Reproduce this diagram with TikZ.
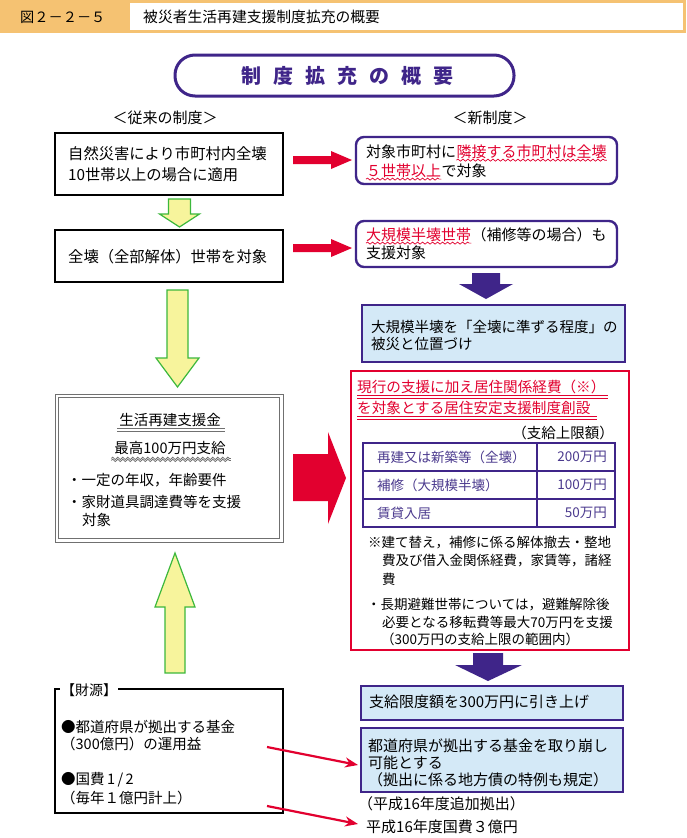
\documentclass[tikz,border=0pt]{standalone}
\usepackage{fontspec}
\setmainfont{Noto Sans CJK JP}
\usetikzlibrary{decorations.pathmorphing,arrows.meta}
\definecolor{pur}{HTML}{3F2589}
\definecolor{rd}{HTML}{E2002F}
\definecolor{lb}{HTML}{D4E9F7}
\definecolor{yf}{HTML}{F7F49C}
\definecolor{gr}{HTML}{3CB83C}
\definecolor{org}{HTML}{F5C272}
\definecolor{tpur}{HTML}{4B3A8E}
\definecolor{gry}{HTML}{707070}
\newcommand\fA{\fontsize{15}{18}\selectfont}
\newcommand\fB{\fontsize{14.5}{17}\selectfont}
\newcommand\fC{\fontsize{13.5}{16}\selectfont}
\tikzset{
  t/.style={inner sep=0pt, anchor=west, font=\fA},
  ts/.style={inner sep=0pt, anchor=west, font=\fB},
  tn/.style={inner sep=0pt, anchor=west, font=\fC},
  chainr/.style={inner sep=0pt, anchor=base west, font=\fA},
  blk/.style={draw=black, line width=1.8pt, inner sep=0pt},
  rbox/.style={draw=pur, line width=2.4pt, rounded corners=8pt, inner sep=0pt},
  bbox/.style={draw=pur, line width=1.8pt, fill=lb, inner sep=0pt},
  wavy/.style={rd, line width=0.7pt, decorate, decoration={snake, amplitude=1pt, segment length=5pt}},
  gwavy/.style={gry, line width=0.8pt, decorate, decoration={snake, amplitude=1.2pt, segment length=5pt}},
  yarrow/.style={fill=yf, draw=gr, line width=1.2pt, line join=miter},
  parrow/.style={fill=pur},
  rarrow/.style={fill=rd},
  thinarrow/.style={rd, line width=2.2pt, -{Stealth[length=13pt,width=10pt]}},
}
\begin{document}
\begin{tikzpicture}[x=1pt,y=-1pt]
\useasboundingbox (0,0) rectangle (686,838);
\fill[white] (0,0) rectangle (686,838);

% header
\fill[org] (0,0) rectangle (686,33);
\node[fill=white, minimum width=553pt, minimum height=27pt, inner sep=0pt] (hdrw) at (406.5,16.5) {};
\node[inner sep=0pt, anchor=west, font=\fontsize{14.2}{16}\selectfont] (fig) at (20,17) {図２－２－５};
\node[inner sep=0pt, anchor=west, font=\fontsize{14.8}{17}\selectfont] (hdr) at (143,17) {被災者生活再建支援制度拡充の概要};

% title
\node[draw=pur, line width=3pt, rounded corners=20pt, minimum width=339pt, minimum height=41pt, inner sep=0pt] (ttl) at (344.5,75.5) {};
\node[inner sep=0pt, text=pur, font=\fontsize{20}{24}\selectfont\bfseries] (ttlt) at (347,76) {制\hspace{12pt}度\hspace{12pt}拡\hspace{12pt}充\hspace{12pt}の\hspace{12pt}概\hspace{12pt}要};

\node[inner sep=0pt, font=\fA] (old) at (165,118) {＜従来の制度＞};
\node[inner sep=0pt, font=\fA] (new) at (490,118) {＜新制度＞};

% left boxes
\node[blk, minimum width=228pt, minimum height=62pt] (b1) at (169,164) {};
\node[t, font=\fontsize{15.3}{18}\selectfont] (b1a) at (68,154) {自然災害により市町村内全壊};
\node[t, font=\fontsize{15.3}{18}\selectfont] (b1b) at (68,175) {10世帯以上の場合に適用};

\node[blk, minimum width=228pt, minimum height=52pt] (b2) at (169,256) {};
\node[t, font=\fontsize{15.3}{18}\selectfont] (b2a) at (68,257) {全壊（全部解体）世帯を対象};

\node[draw=gry, line width=1pt, minimum width=228pt, minimum height=148pt, inner sep=0pt] (b3) at (169,468) {};
\node[draw=gry, line width=1pt, minimum width=221pt, minimum height=141pt, inner sep=0pt] (b3i) at (169,468) {};
\node[inner sep=0pt, font=\fB] (sk1) at (170,420) {生活再建支援金};
\draw[gry, line width=0.8pt] ([xshift=-2pt,yshift=-1.5pt]sk1.south west) -- ([xshift=4pt,yshift=-1.5pt]sk1.south east);
\draw[gry, line width=0.8pt] ([xshift=-2pt,yshift=-4.5pt]sk1.south west) -- ([xshift=4pt,yshift=-4.5pt]sk1.south east);
\node[inner sep=0pt, font=\fB] (sk2) at (170,448) {最高100万円支給};
\draw[gwavy] ([xshift=-3pt,yshift=-3.5pt]sk2.south west) -- ([xshift=5pt,yshift=-3.5pt]sk2.south east);
\draw[gwavy] ([xshift=-3pt,yshift=-5.5pt]sk2.south west) -- ([xshift=5pt,yshift=-5.5pt]sk2.south east);
\node[ts] (sk3) at (67,480) {・一定の年収，年齢要件};
\node[ts] (sk4) at (67,502) {・家財道具調達費等を支援};
\node[ts] (sk5) at (82,520) {対象};

\node[blk, minimum width=228pt, minimum height=124pt] (b4) at (169,751) {};
\node[fill=white, inner sep=1pt, anchor=west, font=\fontsize{14}{16}\selectfont] (zaigen) at (60,690) {【財源】};
\node[ts] (z1) at (61,727) {●都道府県が拠出する基金};
\node[ts] (z2) at (61,744) {（300億円）の運用益};
\node[ts] (z3) at (61,780) {●国費\,1\,/\,2};
\node[ts] (z4) at (61,798) {（毎年１億円計上）};

% left arrows
\draw[yarrow] (168.5,199) -- (190.5,199) -- (190.5,214) -- (199.5,214) -- (179.5,227) -- (159.5,214) -- (168.5,214) -- cycle;
\draw[yarrow] (167,290) -- (188,290) -- (188,358) -- (199,358) -- (177.5,387) -- (156,358) -- (167,358) -- cycle;
\draw[yarrow] (165,673) -- (185,673) -- (185,607) -- (195,607) -- (175,553) -- (155,607) -- (165,607) -- cycle;

% red block arrows
\fill[rarrow] (293,156) -- (331,156) -- (331,151) -- (352,160) -- (331,169) -- (331,164) -- (293,164) -- cycle;
\fill[rarrow] (293,244) -- (331,244) -- (331,239) -- (352,248) -- (331,257) -- (331,252) -- (293,252) -- cycle;
\fill[rarrow] (293,454) -- (328,454) -- (328,432) -- (346,478) -- (328,524) -- (328,501) -- (293,501) -- cycle;

% right box 1
\node[rbox, minimum width=261pt, minimum height=47pt] (r1) at (486.5,160.5) {};
\node[t] (r1a) at (366,152) {対象市町村に};
\node[chainr, text=rd] (r1b) at (r1a.base east) {隣接する市町村は全壊};
\node[t, text=rd] (r1c) at (366,171) {５世帯以上};
\node[chainr] (r1d) at (r1c.base east) {で対象};
\draw[wavy] ([yshift=-1pt]r1b.south west) -- ([yshift=-1pt]r1b.south east);
\draw[wavy] ([yshift=-1pt]r1c.south west) -- ([yshift=-1pt]r1c.south east);

% right box 2
\node[rbox, minimum width=261pt, minimum height=46pt] (r2) at (486.5,244) {};
\node[t, text=rd] (r2a) at (366,235) {大規模半壊世帯};
\node[chainr] (r2b) at (r2a.base east) {（補修等の場合）も};
\node[t] (r2c) at (366,253) {支援対象};
\draw[wavy] ([yshift=-1pt]r2a.south west) -- ([yshift=-1pt]r2a.south east);

% purple arrow 1
\fill[parrow] (472,273) -- (500,273) -- (500,284) -- (513,284) -- (486,299) -- (459,284) -- (472,284) -- cycle;

% blue box 1
\node[bbox, minimum width=263pt, minimum height=57pt] (bb1) at (493.5,333.5) {};
\node[ts] (bl1) at (371,327) {大規模半壊を「全壊に準ずる程度」の};
\node[ts] (bl2) at (371,344) {被災と位置づけ};

% red box
\node[draw=rd, line width=1.2pt, minimum width=278pt, minimum height=279pt, inner sep=0pt] (rb) at (490,510.5) {};
\node[t, text=rd, font=\fontsize{14.6}{17}\selectfont] (rh1) at (357,387) {現行の支援に加え居住関係経費（※）};
\draw[rd, line width=0.8pt] ([yshift=-1pt]rh1.south west) -- ([xshift=2pt,yshift=-1pt]rh1.south east);
\draw[rd, line width=0.8pt] ([yshift=-4pt]rh1.south west) -- ([xshift=2pt,yshift=-4pt]rh1.south east);
\node[t, text=rd, font=\fontsize{14.6}{17}\selectfont] (rh2) at (357,408) {を対象とする居住安定支援制度創設};
\draw[rd, line width=0.8pt] ([yshift=-1pt]rh2.south west) -- ([xshift=6pt,yshift=-1pt]rh2.south east);
\draw[rd, line width=0.8pt] ([yshift=-4pt]rh2.south west) -- ([xshift=6pt,yshift=-4pt]rh2.south east);
\node[inner sep=0pt, anchor=east, font=\fB] (lim) at (614,433) {（支給上限額）};

% table
\node[draw=pur, line width=1.5pt, minimum width=252pt, minimum height=84pt, inner sep=0pt] (tbl) at (489,485) {};
\draw[pur, line width=1.5pt] (537,443) -- (537,527);
\draw[pur, line width=1.5pt] (363,471) -- (615,471);
\draw[pur, line width=1.5pt] (363,499) -- (615,499);
\node[tn, text=tpur] (c11) at (377,457) {再建又は新築等（全壊）};
\node[tn, text=tpur, anchor=east] (c12) at (607,457) {200万円};
\node[tn, text=tpur] (c21) at (377,485) {補修（大規模半壊）};
\node[tn, text=tpur, anchor=east] (c22) at (607,485) {100万円};
\node[tn, text=tpur] (c31) at (377,513) {賃貸入居};
\node[tn, text=tpur, anchor=east] (c32) at (607,513) {50万円};

% notes
\node[tn] (n1) at (368,543) {※建て替え，補修に係る解体撤去・整地};
\node[tn] (n2) at (382,561) {費及び借入金関係経費，家賃等，諸経};
\node[tn] (n3) at (382,579) {費};
\node[tn] (n4) at (367,605) {・長期避難世帯については，避難解除後};
\node[tn] (n5) at (382,622) {必要となる移転費等最大70万円を支援};
\node[tn] (n6) at (381,639) {（300万円の支給上限の範囲内）};

% purple arrow 2
\fill[parrow] (473,653) -- (503,653) -- (503,665) -- (522,665) -- (488,681) -- (455,665) -- (473,665) -- cycle;

% blue box 2 & 3
\node[bbox, minimum width=262pt, minimum height=34pt] (bb2) at (492,703) {};
\node[t] (bb2t) at (369,702) {支給限度額を300万円に引き上げ};
\node[bbox, minimum width=262pt, minimum height=64pt] (bb3) at (492,760) {};
\node[t] (bb3a) at (368,746) {都道府県が拠出する基金を取り崩し};
\node[t] (bb3b) at (368,763) {可能とする};
\node[t] (bb3c) at (368,780) {（拠出に係る地方債の特例も規定）};

\node[t] (tsuika) at (358,804) {（平成16年度追加拠出）};
\node[t] (kokuhi) at (366,827) {平成16年度国費３億円};

% thin red arrows
\coordinate (f1s) at (267,747);
\coordinate (f1e) at (358,765);
\coordinate (f2s) at (267,806);
\coordinate (f2e) at (358,824);
\draw[thinarrow] (f1s) -- (f1e);
\draw[thinarrow] (f2s) -- (f2e);
\end{tikzpicture}
\end{document}
